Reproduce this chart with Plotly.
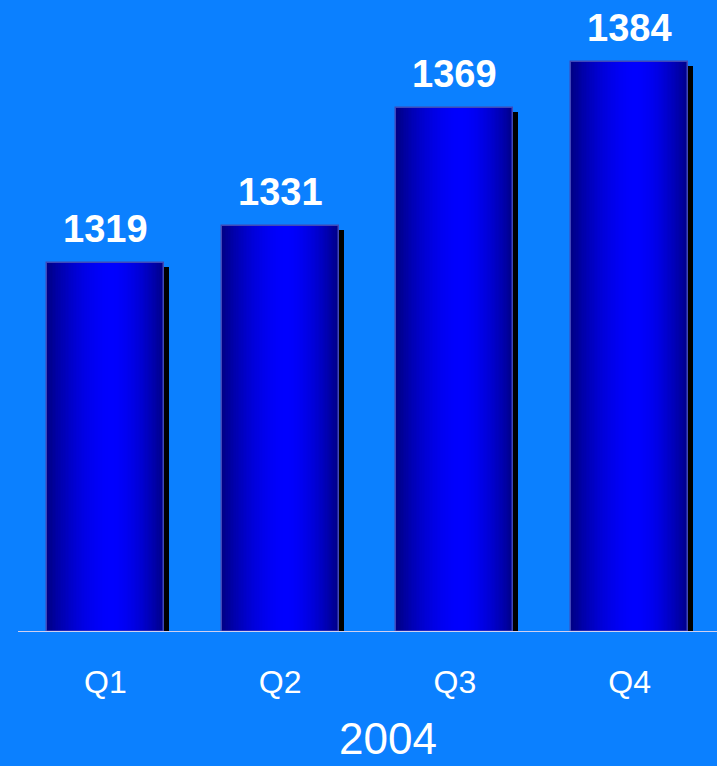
import plotly.graph_objects as go

categories = ["Q1", "Q2", "Q3", "Q4"]
values = [1319, 1331, 1369, 1384]
value_labels = ["1319", "1331", "1369", "1384"]
x_title = "2004"

BG = "#0B80FF"
Y0, Y1 = 1200, 1404
BAR_W = 0.67
FONT = "Liberation Sans, Arial, sans-serif"

PLOT_H = 632
PLOT_W = 699
px_y = (Y1 - Y0) / PLOT_H
px_x = 4 / PLOT_W

xs = list(range(len(categories)))
fig = go.Figure()

# shadow
fig.add_trace(go.Bar(
    x=xs, y=[v - 4 * px_y - Y0 for v in values], base=Y0,
    width=BAR_W, offset=-BAR_W / 2 + 5 * px_x,
    marker=dict(color="black", line=dict(width=0)),
    hoverinfo="skip", showlegend=False))

# gradient via overlapping layers
K = 40
peak = 0.55
edge_b, peak_b = 135, 255
for k in range(K):
    s = k / K
    left = -BAR_W / 2 + s * peak * BAR_W
    right = BAR_W / 2 - s * (1 - peak) * BAR_W
    f = 1 - (1 - s) ** 1.8
    b = int(edge_b + (peak_b - edge_b) * f)
    fig.add_trace(go.Bar(
        x=xs, y=[v - Y0 for v in values], base=Y0,
        width=right - left, offset=left,
        marker=dict(color=f"rgb(0,0,{b})", line=dict(width=0)),
        hoverinfo="skip", showlegend=False))

# outline
fig.add_trace(go.Bar(
    x=xs, y=[v - Y0 for v in values], base=Y0,
    width=BAR_W, offset=-BAR_W / 2,
    marker=dict(color="rgba(0,0,0,0)", line=dict(width=1.5, color="#4048B8")),
    hoverinfo="skip", showlegend=False))

for x, v, t in zip(xs, values, value_labels):
    fig.add_annotation(x=x, y=v, text=f"<b>{t}</b>", showarrow=False,
                       yanchor="bottom", yshift=11,
                       font=dict(family=FONT, size=38, color="white"))

fig.add_annotation(xref="paper", yref="paper", x=0.53, y=-(712 - PLOT_H) / PLOT_H,
                   text=x_title, showarrow=False, yanchor="top",
                   font=dict(family=FONT, size=44, color="white"))

fig.add_shape(type="line", xref="paper", yref="y", x0=0, x1=1, y0=Y0, y1=Y0,
              line=dict(color="#D0D0F0", width=2))

fig.update_layout(
    width=717, height=766,
    margin=dict(l=18, r=0, t=0, b=766 - PLOT_H),
    paper_bgcolor=BG, plot_bgcolor=BG,
    barmode="overlay", bargap=0,
    showlegend=False,
    xaxis=dict(range=[-0.5, 3.5], tickvals=xs, ticktext=categories,
               showgrid=False, zeroline=False, showline=False, ticks="",
               ticklabelstandoff=28,
               tickfont=dict(family=FONT, size=32, color="white")),
    yaxis=dict(range=[Y0, Y1], visible=False, showgrid=False),
)

fig.write_html("out.html", config={"displayModeBar": False},
               post_script="document.body.style.margin='0';document.body.style.background='" + BG + "';")
